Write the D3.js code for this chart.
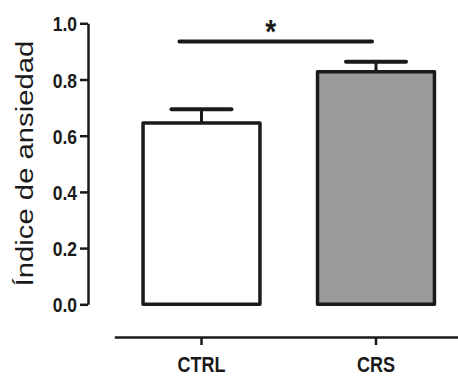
<!DOCTYPE html>
<html>
<head>
<meta charset="utf-8">
<script src="https://cdn.jsdelivr.net/npm/d3@7"></script>
<style>
  body { margin: 0; background: #fff; }
  text { font-family: "Liberation Sans", Arial, sans-serif; fill: #1a1a1a; }
</style>
</head>
<body>
<div class="container"></div>
<script>
const categories = ["CTRL", "CRS"];
const means = [0.645, 0.828];
const sems = [0.049, 0.035];
const fills = ["#ffffff", "#9a9b9a"];
const yTicks = [0, 0.2, 0.4, 0.6, 0.8, 1.0];
const sigLevel = 0.935;
const sigLabel = "*";
const yLabel = "Índice de ansiedad";

const width = 458;
const height = 376;
const ink = "#1a1a1a";

const svg = d3.select(".container").append("svg")
  .attr("width", width)
  .attr("height", height);

const y = d3.scaleLinear()
  .domain([0, 1])
  .range([304.3, 23.3]);

const x = d3.scaleBand()
  .domain(categories)
  .range([114.25, 463.25])
  .paddingInner(0.33)
  .paddingOuter(0.165);

// y axis
const yAxis = svg.append("g")
  .attr("transform", "translate(88,0)")
  .call(d3.axisLeft(y).tickValues(yTicks).tickFormat(d3.format(".1f")).tickSize(8).tickSizeOuter(0));
yAxis.select(".domain").attr("stroke", ink).attr("stroke-width", 2.5);
yAxis.selectAll(".tick line").attr("stroke", ink).attr("stroke-width", 2.5);
yAxis.selectAll(".tick text")
  .attr("font-size", 17.5)
  .attr("font-weight", "bold")
  .attr("dy", "0.36em")
  .attr("transform", "scale(1,1.2)")
  .attr("fill", ink);

// x axis
const xAxis = svg.append("g")
  .attr("transform", "translate(0,337)")
  .call(d3.axisBottom(x).tickSize(8).tickSizeOuter(0));
xAxis.select(".domain").attr("stroke", ink).attr("stroke-width", 2.5);
xAxis.selectAll(".tick line").attr("stroke", ink).attr("stroke-width", 2.5);
xAxis.selectAll(".tick text")
  .attr("font-size", 18)
  .attr("font-weight", "bold")
  .attr("y", 0)
  .attr("dy", 0)
  .attr("transform", "translate(0,34.5) scale(1,1.2)")
  .attr("fill", ink);

// error bars
const err = svg.append("g");
categories.forEach((c, i) => {
  const cx = x(c) + x.bandwidth() / 2;
  err.append("line")
    .attr("x1", cx).attr("x2", cx)
    .attr("y1", y(means[i])).attr("y2", y(means[i] + sems[i]))
    .attr("stroke", ink).attr("stroke-width", 3);
  err.append("line")
    .attr("x1", cx - 30).attr("x2", cx + 30)
    .attr("y1", y(means[i] + sems[i])).attr("y2", y(means[i] + sems[i]))
    .attr("stroke", ink).attr("stroke-width", 4).attr("stroke-linecap", "round");
});

// bars
svg.append("g")
  .selectAll("rect")
  .data(categories)
  .enter()
  .append("rect")
  .attr("x", d => x(d))
  .attr("y", (d, i) => y(means[i]))
  .attr("width", x.bandwidth())
  .attr("height", (d, i) => y(0) - y(means[i]))
  .attr("fill", (d, i) => fills[i])
  .attr("stroke", ink)
  .attr("stroke-width", 3.5)
  .attr("stroke-linejoin", "round");

// significance line
const c0 = x(categories[0]) + x.bandwidth() / 2;
const c1 = x(categories[1]) + x.bandwidth() / 2;
svg.append("line")
  .attr("x1", c0 - 22).attr("x2", c1 - 4)
  .attr("y1", y(sigLevel)).attr("y2", y(sigLevel))
  .attr("stroke", ink).attr("stroke-width", 4).attr("stroke-linecap", "round");

svg.append("text")
  .attr("transform", `translate(${(c0 + c1) / 2 - 18},${y(sigLevel) + 1}) scale(1,1.2)`)
  .attr("text-anchor", "middle")
  .attr("font-size", 28)
  .attr("font-weight", "bold")
  .text(sigLabel);

// y label
svg.append("text")
  .attr("transform", "translate(33,163.5) rotate(-90) scale(1.22,1)")
  .attr("text-anchor", "middle")
  .attr("font-size", 24)
  .text(yLabel);
</script>
</body>
</html>
